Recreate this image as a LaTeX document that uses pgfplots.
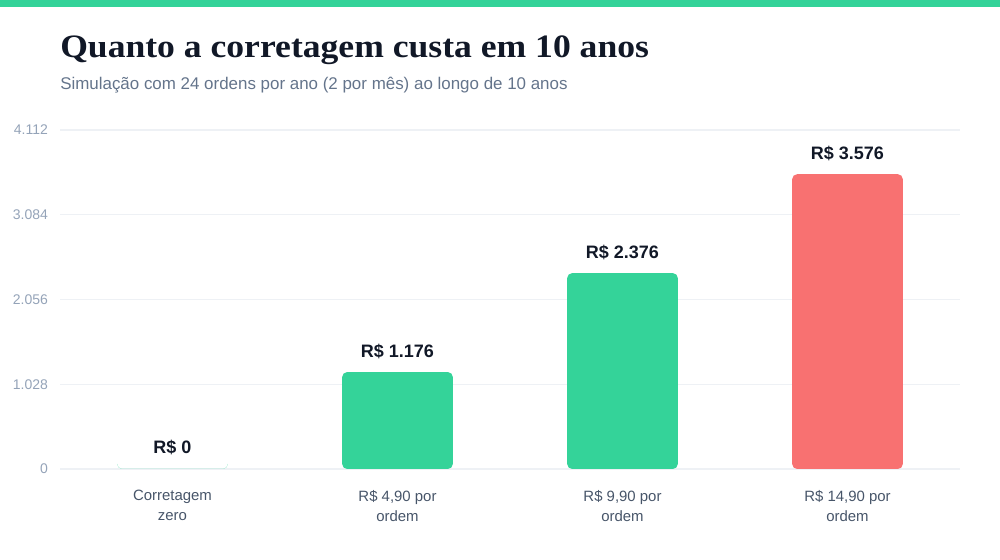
\documentclass[border=0pt]{standalone}
\usepackage{pgfplots}
\pgfplotsset{compat=1.18}
\usepackage{fontspec}
\setmainfont{Liberation Sans}
\newfontfamily\titlefont[FakeStretch=1.09]{Liberation Serif}
\definecolor{barGreen}{HTML}{34D399}
\definecolor{barRed}{HTML}{F87171}
\definecolor{gridc}{HTML}{EEF1F5}
\definecolor{tickc}{HTML}{94A3B8}
\definecolor{labc}{HTML}{475569}
\definecolor{subc}{HTML}{64748B}
\definecolor{titc}{HTML}{111827}

\begin{document}
\begin{tikzpicture}
% canvas in pixels (1px = 0.75pt)
\begin{scope}[x=0.75pt,y=0.75pt]
\path[use as bounding box] (0,0) rectangle (1000,560);
\fill[barGreen] (0,553) rectangle (1000,560);
\node[anchor=base west,inner sep=0,text=titc,font=\titlefont\bfseries\fontsize{24.5}{27}\selectfont]
  at (60,502) {Quanto a corretagem custa em 10 anos};
\node[anchor=base west,inner sep=0,text=subc,font=\fontsize{12.7}{14}\selectfont]
  at (60,470) {Simulação com 24 ordens por ano (2 por mês) ao longo de 10 anos};
\end{scope}

\begin{axis}[
    at={(45pt,68.25pt)}, anchor=south west,
    scale only axis,
    width=675pt, height=254.25pt,
    xmin=-0.5, xmax=3.5,
    ymin=0, ymax=4112,
    axis line style={draw=none},
    ymajorgrids,
    grid style={gridc, line width=1pt},
    ytick={0,1028,2056,3084,4112},
    yticklabels={0,1.028,2.056,3.084,4.112},
    xtick={0,1,2,3},
    xticklabels={{Corretagem\\zero}, {R\$ 4,90 por\\ordem}, {R\$ 9,90 por\\ordem}, {R\$ 14,90 por\\ordem}},
    major tick length=0pt,
    /pgf/number format/assume math mode=true,
    yticklabel style={text=tickc, font=\fontsize{10.5}{12}\selectfont, xshift=-5.5pt},
    xticklabel style={text=labc, font=\fontsize{11.2}{15}\selectfont, align=center, yshift=-12.5pt},
    ybar, bar width=83pt, bar shift=0pt,
    clip=false,
    nodes near coords={R\$ \pgfmathprintnumber[1000 sep={.}]{\pgfplotspointmeta}},
    nodes near coords style={anchor=base, inner sep=0pt, yshift=11.25pt,
        font=\bfseries\fontsize{13.5}{15}\selectfont, text=titc},
  ]
\addplot[fill=barGreen, draw=none, rounded corners=3.75pt] coordinates {(0,0) (1,1176) (2,2376)};
\addplot[fill=barRed, draw=none, rounded corners=3.75pt] coordinates {(3,3576)};
\end{axis}
\end{tikzpicture}
\end{document}
